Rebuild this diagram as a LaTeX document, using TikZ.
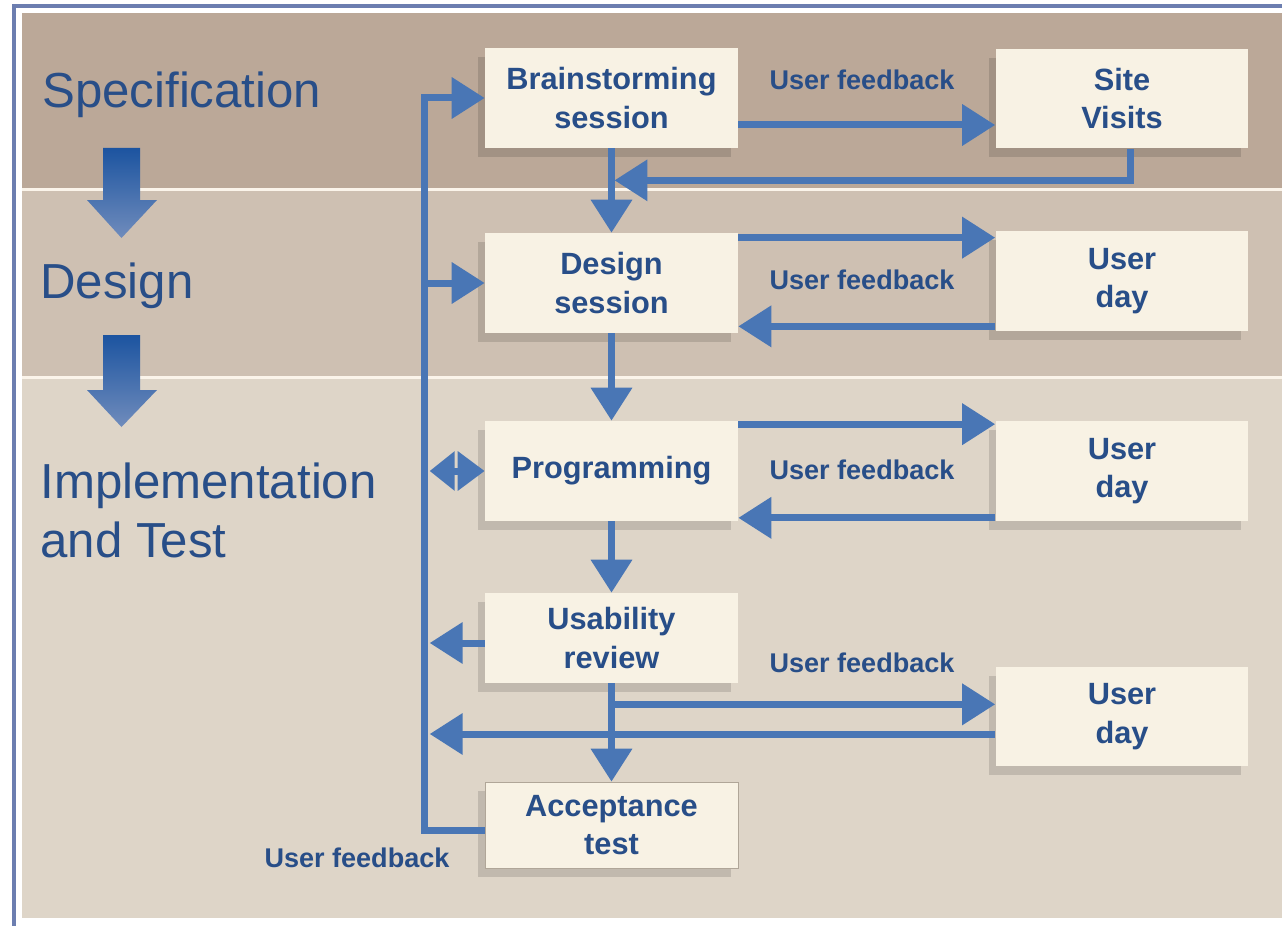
\documentclass[tikz,border=0pt]{standalone}
\usepackage{fontspec}
\setmainfont{Liberation Sans}
\usetikzlibrary{arrows.meta,shadows}

\newcommand{\boxWidth}{5.06cm}
\newcommand{\boxHeight}{2cm}
\newcommand{\flowWidth}{0.14cm}
\newcommand{\tipLength}{0.66cm}
\newcommand{\tipWidth}{0.8cm}
\definecolor{specBrown}{RGB}{187,168,152}
\definecolor{designBrown}{RGB}{206,192,178}
\definecolor{implBrown}{RGB}{222,213,200}
\definecolor{bandLine}{RGB}{251,244,234}
\definecolor{boxCream}{RGB}{248,242,228}
\definecolor{flowBlue}{RGB}{73,118,181}
\definecolor{textBlue}{RGB}{40,78,136}
\definecolor{frameBlue}{RGB}{108,126,176}
\definecolor{arrowDark}{RGB}{28,84,160}
\definecolor{arrowLight}{RGB}{112,140,188}

\begin{document}
\begin{tikzpicture}[x=0.02cm,y=-0.02cm,
	phaseBox/.style={fill=boxCream,minimum width=\boxWidth,minimum height=\boxHeight,inner sep=0pt,align=center,text=textBlue,font=\fontsize{17.5}{22}\selectfont\bfseries,drop shadow={shadow xshift=-0.14cm,shadow yshift=-0.18cm,fill=black,opacity=0.13}},
	feedbackLabel/.style={text=textBlue,font=\fontsize{15.4}{18}\selectfont\bfseries},
	phaseTitle/.style={anchor=north west,inner sep=0pt,align=left,text=textBlue,font=\fontsize{28}{34}\selectfont},
	flow/.style={draw=flowBlue,line width=\flowWidth,-{Triangle[length=\tipLength,width=\tipWidth]}},
	flowBoth/.style={draw=flowBlue,line width=\flowWidth,{Triangle[length=0.5cm,width=0.76cm]}-{Triangle[length=0.54cm,width=0.76cm]}},
	phaseArrow/.style={top color=arrowDark,bottom color=arrowLight}]
	\useasboundingbox (0,0) rectangle (1282,926);
	% keret es savok
	\fill[white] (0,0) rectangle (1282,926);
	\draw[frameBlue,line width=0.08cm] (14,926)--(14,6)--(1282,6);
	\fill[specBrown] (22,13) rectangle (1282,188);
	\fill[bandLine] (22,188) rectangle (1282,191);
	\fill[designBrown] (22,191) rectangle (1282,376);
	\fill[bandLine] (22,376) rectangle (1282,379);
	\fill[implBrown] (22,379) rectangle (1282,918);
	% fazisok cimei
	\node[phaseTitle] (specTitle) at (42,72) {Specification};
	\node[phaseTitle] (designTitle) at (40,263) {Design};
	\node[phaseTitle] (implTitle) at (40,462) {Implementation\\and Test};
	\shade[phaseArrow] (103,148)--(140,148)--(140,200)--(157,200)--(121.5,238)--(87,200)--(103,200)--cycle;
	\shade[phaseArrow] (103,335)--(140,335)--(140,390)--(157,390)--(121.5,427)--(87,390)--(103,390)--cycle;
	% dobozok
	\node[phaseBox] (brain) at (611.5,98) {Brainstorming\\session};
	\node[phaseBox] (site) at (1122,98.5) {Site\\Visits};
	\node[phaseBox] (design) at (611.5,283) {Design\\session};
	\node[phaseBox] (userDayA) at (1122,281) {User\\day};
	\node[phaseBox] (prog) at (611.5,471) {Programming};
	\node[phaseBox] (userDayB) at (1122,471) {User\\day};
	\node[phaseBox,minimum height=1.8cm] (usab) at (611.5,638) {Usability\\review};
	\node[phaseBox] (userDayC) at (1122,716.5) {User\\day};
	\node[phaseBox,minimum height=1.72cm,draw={rgb,255:red,176;green,166;blue,152},line width=0.4pt] (accept) at (611.5,825) {Acceptance\\test};
	% feliratok
	\node[feedbackLabel] (fbSite) at (862,80) {User feedback};
	\node[feedbackLabel] (fbDayA) at (862,280) {User feedback};
	\node[feedbackLabel] (fbDayB) at (862,470) {User feedback};
	\node[feedbackLabel] (fbDayC) at (862,663) {User feedback};
	\node[feedbackLabel] (fbAccept) at (357,858) {User feedback};
	% fo lanc
	\draw[flow] (brain.south)--(design.north);
	\draw[flow] (design.south)--(prog.north);
	\draw[flow] (prog.south)--(usab.north);
	\draw[flow] (usab.south)--(accept.north);
	% felhasznaloi visszajelzes jobbra
	\draw[flow] ([yshift=-0.54cm]brain.east)--([yshift=-0.54cm]brain.east -| site.west);
	\draw[flow] ([xshift=0.16cm]site.south) |- ([xshift=0.06cm,yshift=-0.64cm]brain.south);
	\draw[flow] ([yshift=-0.1cm]design.north east)--([yshift=-0.1cm]design.north east -| userDayA.west);
	\draw[flow] ([yshift=0.1cm]userDayA.south west)--([yshift=0.1cm]userDayA.south west -| design.east);
	\draw[flow] ([yshift=-0.07cm]prog.north east)--([yshift=-0.07cm]prog.north east -| userDayB.west);
	\draw[flow] ([yshift=0.07cm]userDayB.south west)--([yshift=0.07cm]userDayB.south west -| prog.east);
	\draw[flow] ([yshift=-0.42cm]usab.south)--([yshift=-0.42cm]usab.south -| userDayC.west);
	% visszacsatolo ag balra
	\coordinate (trunk) at ([xshift=-1.2cm]brain.west);
	\coordinate (trunkTip) at ([xshift=0.1cm]trunk);
	\draw[flow] ([yshift=-0.1cm]accept.west) -| (trunk)--(brain.west);
	\draw[flow] (trunk |- design.west)--(design.west);
	\draw[flowBoth] (trunkTip |- prog.west)--(prog.west);
	\draw[flow] ([yshift=-0.1cm]usab.west)--([yshift=-0.1cm]usab.west -| trunkTip);
	\draw[flow] ([yshift=-0.35cm]userDayC.west)--([yshift=-0.35cm]userDayC.west -| trunkTip);
\end{tikzpicture}
\end{document}
